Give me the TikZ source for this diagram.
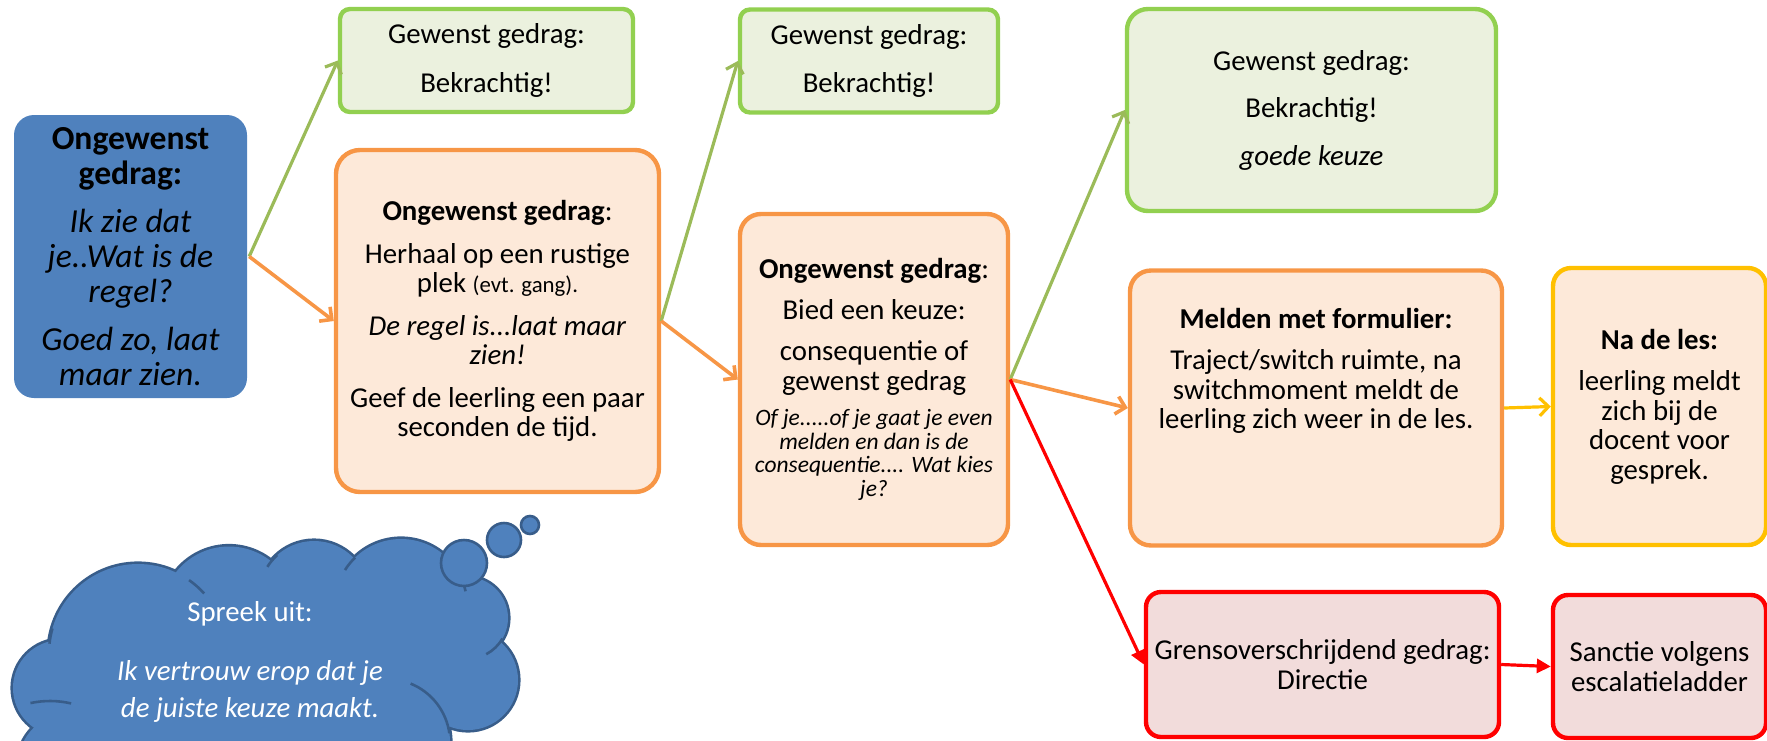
\documentclass[tikz,border=0pt]{standalone}
\usepackage{fontspec}
\setmainfont{Carlito}
\usetikzlibrary{arrows.meta}
\definecolor{gedragblauw}{HTML}{4F81BD}
\definecolor{wolkrand}{HTML}{385D8A}
\definecolor{groenrand}{HTML}{92D050}
\definecolor{groenvul}{HTML}{EBF1DE}
\definecolor{groenpijl}{HTML}{9BBB59}
\definecolor{oranjerand}{HTML}{F79646}
\definecolor{oranjevul}{HTML}{FDE9D9}
\definecolor{geelrand}{HTML}{FFC000}
\definecolor{roodvul}{HTML}{F2DCDB}
\newcommand\klein{\fontsize{22.8}{24}\selectfont}
\newcommand\uitleg{\fontsize{23.5}{24}\selectfont\itshape}
\tikzset{
  box/.style={draw, line width=4.4pt, align=center, inner sep=0pt,
    font=\fontsize{28.8}{29.5}\selectfont},
  start/.style={box, draw=none, fill=gedragblauw, rounded corners=20pt,
    font=\fontsize{33.6}{35}\selectfont},
  goed/.style={box, draw=groenrand, fill=groenvul},
  fout/.style={box, draw=oranjerand, fill=oranjevul, rounded corners=24pt},
  na/.style={box, draw=geelrand, fill=oranjevul, rounded corners=18pt},
  streng/.style={box, draw=red, fill=roodvul, rounded corners=15pt},
  wolknaad/.style={draw=wolkrand, line width=2.6pt},
  bel/.style={circle, draw=wolkrand, fill=gedragblauw, line width=2.6pt, inner sep=0pt},
  pijlgroen/.style={draw=groenpijl, line width=3.2pt, -{Straight Barb[length=9pt,width=18pt]}},
  pijloranje/.style={draw=oranjerand, line width=3.6pt, -{Straight Barb[length=9pt,width=18pt]}},
  pijlgeel/.style={draw=geelrand, line width=3.2pt, -{Straight Barb[length=9pt,width=18pt]}},
  pijlrood/.style={draw=red, line width=3.2pt, -{Triangle[length=14pt,width=14pt]}}
}

\begin{document}
\begin{tikzpicture}[x=1pt,y=-1pt]
  \useasboundingbox (0,0) rectangle (1767,740);
  \clip (0,0) rectangle (1767,740);

  \node[start, minimum width=233pt, minimum height=283pt] (blauw) at (130.5,256.5)
    {\textbf{Ongewenst}\\\textbf{gedrag:}\\[13pt]\textit{Ik zie dat}\\\textit{je..Wat is de}\\\textit{regel?}\\[13pt]\textit{Goed zo, laat}\\\textit{maar zien.}};
  \node[goed, rounded corners=10pt, minimum width=293pt, minimum height=103pt] (goed1) at (486.5,60.5)
    {Gewenst gedrag:\\[19pt]Bekrachtig!};
  \node[fout, minimum width=323pt, minimum height=342pt] (fout1) at (497.5,321)
    {\textbf{Ongewenst gedrag}:\\[13pt]Herhaal op een rustige\\plek {\klein(evt. gang).}\\[13pt]\textit{De regel is...laat maar}\\\textit{zien!}\\[13pt]Geef de leerling een paar\\seconden de tijd.};
  \node[goed, rounded corners=10pt, minimum width=258pt, minimum height=103pt] (goed2) at (869,61)
    {Gewenst gedrag:\\[19pt]Bekrachtig!};
  \node[fout, rounded corners=21pt, minimum width=268pt, minimum height=331pt] (fout2) at (874,379.5)
    {\textbf{Ongewenst gedrag}:\\[11.5pt]Bied een keuze:\\[11.5pt]consequentie of\\gewenst gedrag\\[6pt]\uitleg Of je.....of je gaat je even\\[-6pt]\uitleg melden en dan is de\\[-6pt]\uitleg consequentie.... Wat kies\\[-6pt]\uitleg je?};
  \node[goed, rounded corners=21pt, minimum width=369pt, minimum height=202pt] (goed3) at (1311.5,110)
    {Gewenst gedrag:\\[18pt]Bekrachtig!\\[18pt]\textit{goede keuze}};
  \node[fout, rounded corners=21pt, minimum width=372pt, minimum height=275pt] (melden) at (1316,408) {};
  \node[align=center, inner sep=0pt, font=\fontsize{28.8}{29.5}\selectfont] (meldentekst) at (1316,371)
    {\textbf{Melden met formulier:}\\[12pt]Traject/switch ruimte, na\\switchmoment meldt de\\leerling zich weer in de les.};
  \node[na, minimum width=213pt, minimum height=277pt] (nadeles) at (1659.5,406.5)
    {\textbf{Na de les:}\\[12pt]leerling meldt\\zich bij de\\docent voor\\gesprek.};
  \node[streng, minimum width=353pt, minimum height=145pt] (grens) at (1322.5,664.5)
    {Grensoverschrijdend gedrag:\\Directie};
  \node[streng, minimum width=213pt, minimum height=143pt] (sanctie) at (1659.5,666.5)
    {Sanctie volgens\\escalatieladder};

  \foreach \cx/\cy/\r in {61/688/48, 138/653/89, 229/614/67.5, 314/596/55, 401/605/66,
      467/618/41, 468/680/50, 387/742/63, 70/765/52}
    \draw[wolkrand, line width=5.2pt] (\cx,\cy) circle[radius=\r];
  \fill[gedragblauw] (265,690) ellipse[x radius=200, y radius=95];
  \foreach \cx/\cy/\r in {61/688/48, 138/653/89, 229/614/67.5, 314/596/55, 401/605/66,
      467/618/41, 468/680/50, 387/742/63, 70/765/52}
    \fill[gedragblauw] (\cx,\cy) circle[radius=\r];
  \foreach \cx/\cy/\r/\a/\b in {138/653/89/196/186, 138/653/89/305/318, 314/596/55/228/212,
      401/605/66/226/212, 401/605/66/333/348, 467/618/41/30/62, 387/742/63/292/352, 50/795/94/258/283}
    \draw[wolknaad] (\cx,\cy) ++(\a:\r) arc[start angle=\a, end angle=\b, radius=\r];
  \node[bel, minimum size=46pt] (bel3) at (464,563) {};
  \node[bel, minimum size=34pt] (bel2) at (504,540) {};
  \node[bel, minimum size=18pt] (bel1) at (530,525) {};
  \node[align=center, inner sep=0pt, text=white, font=\fontsize{28.8}{37}\selectfont] (wolktekst) at (250,662)
    {Spreek uit:\\[22pt]\textit{Ik vertrouw erop dat je}\\\textit{de juiste keuze maakt.}};

  \draw[pijlgroen] (blauw.east) -- (goed1.west);
  \draw[pijloranje] (blauw.east) -- (fout1.west);
  \draw[pijlgroen] (fout1.east) -- (goed2.west);
  \draw[pijloranje] (fout1.east) -- (fout2.west);
  \draw[pijlgroen] (fout2.east) -- (goed3.west);
  \draw[pijloranje] (fout2.east) -- (melden.west);
  \draw[pijlrood] (fout2.east) -- (grens.west);
  \draw[pijlgeel] (melden.east) -- (nadeles.west);
  \draw[pijlrood] (grens.east) -- (sanctie.west);
\end{tikzpicture}
\end{document}
